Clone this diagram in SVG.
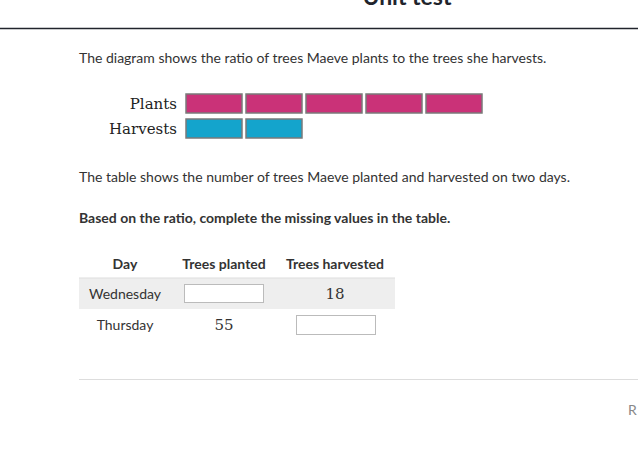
<svg xmlns="http://www.w3.org/2000/svg" width="638" height="466" viewBox="0 0 638 466">
<style>
.t{font-family:Lato,"Open Sans","Liberation Sans",sans-serif;font-size:14px;fill:#333}
.b{font-weight:bold}
.h{font-family:Lato,"Liberation Sans",sans-serif;font-size:14px;font-weight:bold;fill:#333;text-anchor:middle}
.c{font-family:Lato,"Liberation Sans",sans-serif;font-size:14px;fill:#333;text-anchor:middle}
.m{font-family:"DejaVu Serif","Liberation Serif",serif;font-size:15px;fill:#222;text-anchor:end}
.mn{font-family:"DejaVu Serif","Liberation Serif",serif;font-size:15px;fill:#333;text-anchor:middle}
.p{fill:#CA3278;stroke:#7a7a7a;stroke-width:1.5}
.q{fill:#14A4CC;stroke:#7a7a7a;stroke-width:1.5}
.in{fill:#fff;stroke:#bbb;stroke-width:1}
</style>
<rect width="638" height="466" fill="#fff"/>
<text x="407" y="5" font-family="Lato,'Liberation Sans',sans-serif" font-size="23" font-weight="bold" fill="#21242c" text-anchor="middle">Unit test</text>
<line x1="0" y1="28.5" x2="638" y2="28.5" stroke="#21242c" stroke-width="1.5"/>
<text class="t" x="79" y="63">The diagram shows the ratio of trees Maeve plants to the trees she harvests.</text>
<g id="tape">
<text class="m" x="177" y="109">Plants</text>
<text class="m" x="177" y="134">Harvests</text>
<rect class="p" x="186" y="94" width="56" height="19"/>
<rect class="p" x="246" y="94" width="56" height="19"/>
<rect class="p" x="306" y="94" width="56" height="19"/>
<rect class="p" x="366" y="94" width="56" height="19"/>
<rect class="p" x="426" y="94" width="56" height="19"/>
<rect class="q" x="186" y="119" width="56" height="19"/>
<rect class="q" x="246" y="119" width="56" height="19"/>
</g>
<text class="t" x="79" y="182">The table shows the number of trees Maeve planted and harvested on two days.</text>
<text class="t b" x="79" y="223">Based on the ratio, complete the missing values in the table.</text>
<g id="table">
<text class="h" x="125" y="269">Day</text>
<text class="h" x="224" y="269">Trees planted</text>
<text class="h" x="335" y="269">Trees harvested</text>
<rect x="79" y="278" width="316" height="31" fill="#eeeeee"/>
<line x1="79" y1="278" x2="395" y2="278" stroke="#ddd"/>
<text class="c" x="125" y="299">Wednesday</text>
<rect class="in" x="184.5" y="284.5" width="79" height="18"/>
<text class="mn" x="335" y="299">18</text>
<text class="c" x="125" y="330">Thursday</text>
<text class="mn" x="224" y="330">55</text>
<rect class="in" x="296.5" y="315.5" width="79" height="19"/>
</g>
<line x1="79" y1="379.5" x2="638" y2="379.5" stroke="#ddd" stroke-width="1"/>
<text x="628" y="415" font-family="Lato,'Liberation Sans',sans-serif" font-size="14" fill="#888">R</text>
</svg>
